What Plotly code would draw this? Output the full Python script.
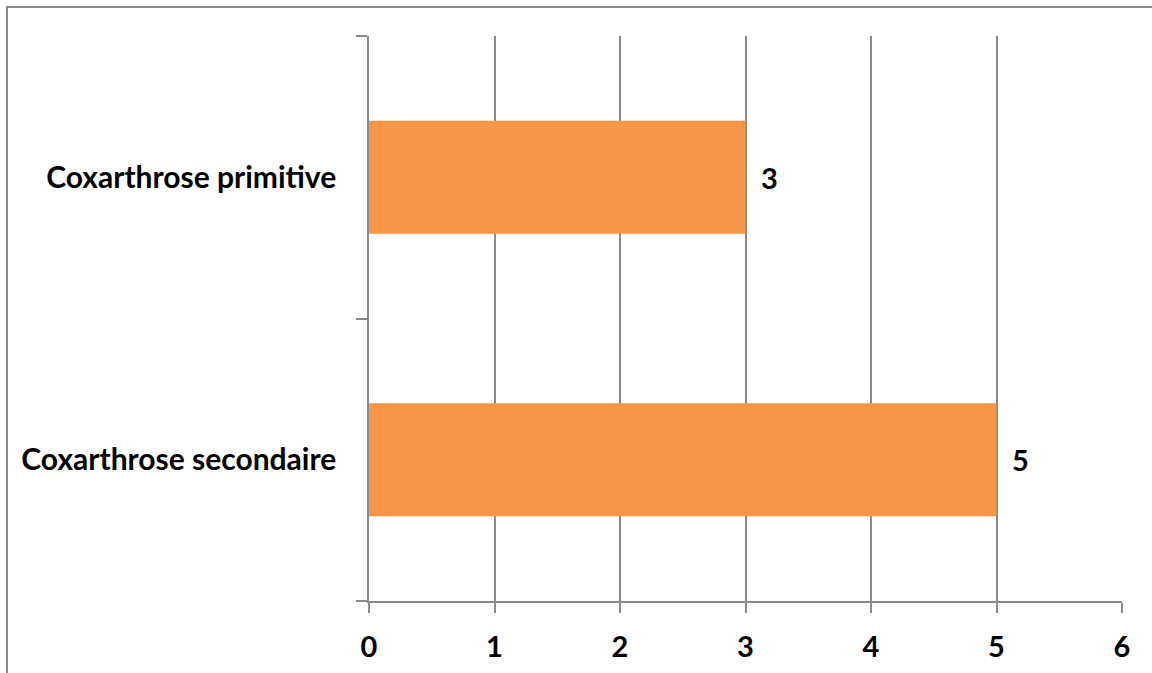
import plotly.graph_objects as go

categories = ["Coxarthrose secondaire", "Coxarthrose primitive"]
values = [5, 3]
x_ticks = [0, 1, 2, 3, 4, 5, 6]

BAR = "#F79646"
GRID = "#8A8A8A"
FONT = "Lato"

W, H = 1152, 673
L, R, T, B = 369, 30, 36, 72
pw, ph = W - L - R, H - T - B

fig = go.Figure()
fig.add_trace(go.Bar(
    x=values, y=categories, orientation="h",
    marker=dict(color=BAR, line=dict(width=0)),
    width=0.4,
    hoverinfo="skip",
))

for v, c in zip(values, categories):
    fig.add_annotation(x=v, y=c, text=f"<b>{v}</b>", showarrow=False,
                       xanchor="left", xshift=13,
                       font=dict(family=FONT, size=29, color="#000000"))

fig.update_layout(
    width=W, height=H,
    margin=dict(l=L, r=R, t=T, b=B, pad=0, autoexpand=False),
    paper_bgcolor="white", plot_bgcolor="white",
    showlegend=False,
    bargap=0.6,
    font=dict(family=FONT, color="#000000"),
)
fig.update_xaxes(
    range=[0, 6], tickvals=x_ticks,
    ticktext=[f"<b>{t}</b>" for t in x_ticks],
    tickfont=dict(family=FONT, size=29, color="#000000"),
    showgrid=True, gridcolor=GRID, gridwidth=1.5,
    showline=True, linecolor=GRID, linewidth=1.5,
    ticks="outside", ticklen=10, tickcolor=GRID, tickwidth=1.5,
    ticklabelstandoff=9, automargin=False,
    zeroline=False, fixedrange=True,
)
fig.update_yaxes(
    type="category", categoryorder="array", categoryarray=categories,
    tickvals=categories,
    ticktext=[f"<b>{c}</b>" for c in categories],
    tickfont=dict(family=FONT, size=30, color="#000000"),
    tickson="boundaries",
    ticks="outside", ticklen=11, tickcolor=GRID, tickwidth=1.5,
    showline=True, linecolor=GRID, linewidth=1.5,
    showgrid=False, zeroline=False,
    ticklabelstandoff=25, automargin=False,
    fixedrange=True,
)

fig.add_shape(type="rect", xref="paper", yref="paper",
              x0=(7 - L) / pw, x1=(W + 20 - L) / pw,
              y0=-(B + 20) / ph, y1=1 + (T - 7) / ph,
              line=dict(color=GRID, width=2), fillcolor="rgba(0,0,0,0)",
              layer="above")

fig.write_html("out.html")
